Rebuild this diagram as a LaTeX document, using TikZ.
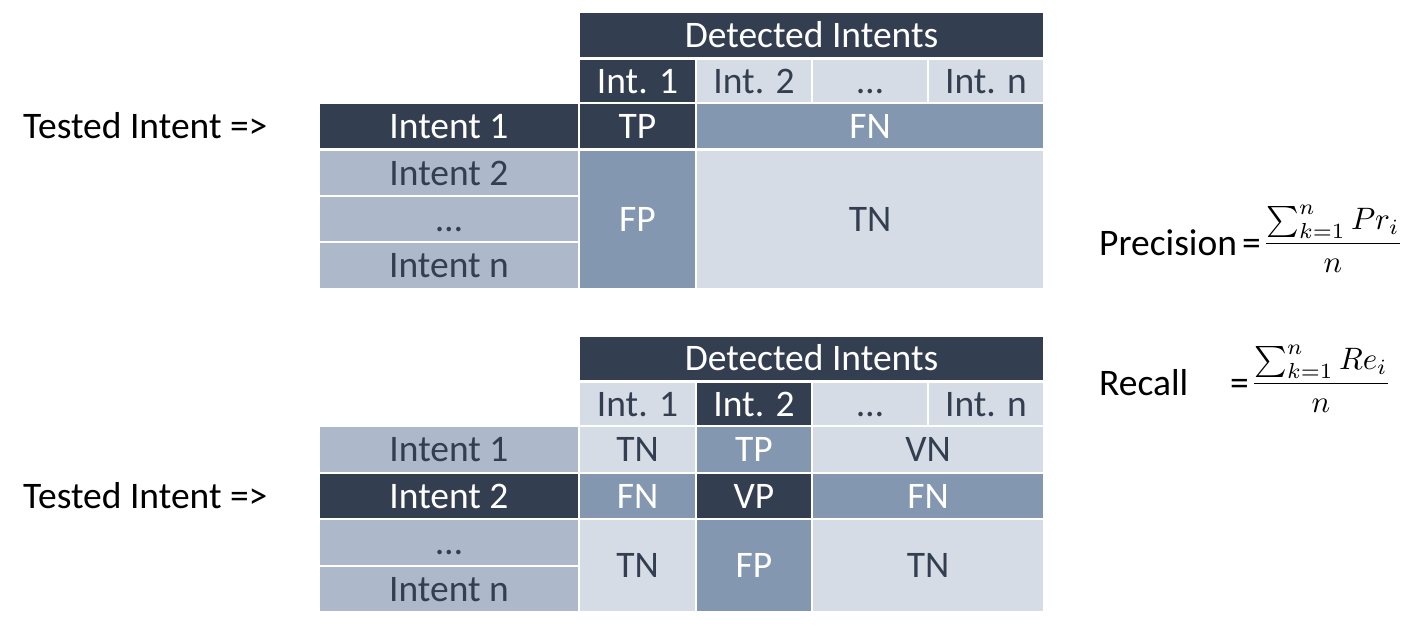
\documentclass[tikz,border=0pt]{standalone}
\usepackage{graphicx}
\usepackage{fontspec}
\setmainfont{Carlito}
\definecolor{cdark}{HTML}{333F50}
\definecolor{cmed}{HTML}{8497B0}
\definecolor{clight}{HTML}{D6DCE5}
\definecolor{clm}{HTML}{ADB9CA}
\definecolor{ctext}{HTML}{333F50}
\newcommand\cellnode[7]{%
  \pgfmathsetmacro\cw{#4-#2}\pgfmathsetmacro\ch{#5-#3}%
  \node[cellbase,#6,minimum width=\cw pt,minimum height=\ch pt] (#1) at ({(#2+#4)/2},{(#3+#5)/2}) {#7};}
\tikzset{
  cellbase/.style={inner sep=0pt,outer sep=0pt,draw=none,rectangle,
    font=\fontsize{37.5}{45}\selectfont,text height=24pt,text depth=0pt},
  dk/.style={fill=cdark,text=white},
  md/.style={fill=cmed,text=white},
  lt/.style={fill=clight,text=ctext},
  lm/.style={fill=clm,text=ctext},
  side/.style={inner sep=0pt,font=\fontsize{37.5}{45}\selectfont,text=black},
  frac/.style={inner sep=0pt,text=black}
}
\begin{document}
\begin{tikzpicture}[x=1pt,y=-1pt]
\useasboundingbox (0,0) rectangle (1413,635);
% top table
\cellnode{hdrT}{580}{13}{1043}{57}{dk}{Detected Intents}
\cellnode{tA}{580}{60}{695}{102}{dk}{Int. 1}
\cellnode{tB}{697}{60}{811}{102}{lt}{Int. 2}
\cellnode{tC}{813}{60}{927}{102}{lt}{…}
\cellnode{tD}{929}{60}{1043}{102}{lt}{Int. n}
\cellnode{tL1}{320}{104}{578}{148}{dk}{Intent 1}
\cellnode{tTP}{580}{104}{695}{148}{dk}{TP}
\cellnode{tFN}{697}{104}{1043}{148}{md}{FN}
\cellnode{tL2}{320}{151}{578}{195}{lm}{Intent 2}
\cellnode{tL3}{320}{197}{578}{241}{lm}{…}
\cellnode{tL4}{320}{243}{578}{288}{lm}{Intent n}
\cellnode{tFP}{580}{151}{695}{288}{md}{FP}
\cellnode{tTN}{697}{151}{1043}{288}{lt}{TN}
% bottom table
\cellnode{hdrB}{580}{337}{1043}{380}{dk}{Detected Intents}
\cellnode{bA}{580}{383}{695}{425}{lt}{Int. 1}
\cellnode{bB}{697}{383}{811}{425}{dk}{Int. 2}
\cellnode{bC}{813}{383}{927}{425}{lt}{…}
\cellnode{bD}{929}{383}{1043}{425}{lt}{Int. n}
\cellnode{bL1}{320}{427}{578}{472}{lm}{Intent 1}
\cellnode{bTN1}{580}{427}{695}{472}{lt}{TN}
\cellnode{bTP}{697}{427}{811}{472}{md}{TP}
\cellnode{bVN}{813}{427}{1043}{472}{lt}{VN}
\cellnode{bL2}{320}{474}{578}{518}{dk}{Intent 2}
\cellnode{bFN1}{580}{474}{695}{518}{md}{FN}
\cellnode{bVP}{697}{474}{811}{518}{dk}{VP}
\cellnode{bFN2}{813}{474}{1043}{518}{md}{FN}
\cellnode{bL3}{320}{520}{578}{565}{lm}{…}
\cellnode{bL4}{320}{567}{578}{611}{lm}{Intent n}
\cellnode{bTN2}{580}{520}{695}{611}{lt}{TN}
\cellnode{bFP}{697}{520}{811}{611}{md}{FP}
\cellnode{bTN3}{813}{520}{1043}{611}{lt}{TN}
% side labels
\node[side,anchor=base west] (testT) at (23,138) {Tested Intent =>};
\node[side,anchor=base west] (testB) at (23,508) {Tested Intent =>};
% formulas
\node[side,anchor=base west] (prec) at (1099,255) {Precision};
\node[side,anchor=base west] (preq) at (1242,255) {=};
\node[frac,anchor=base] (prfrac) at (1333,251) {\scalebox{3.1}{$\displaystyle\frac{\sum_{k=1}^{n} Pr_i}{n}$}};
\node[side,anchor=base west] (rec) at (1099,395) {Recall};
\node[side,anchor=base west] (receq) at (1230,395) {=};
\node[frac,anchor=base] (refrac) at (1321,391) {\scalebox{3.1}{$\displaystyle\frac{\sum_{k=1}^{n} Re_i}{n}$}};
\end{tikzpicture}
\end{document}
